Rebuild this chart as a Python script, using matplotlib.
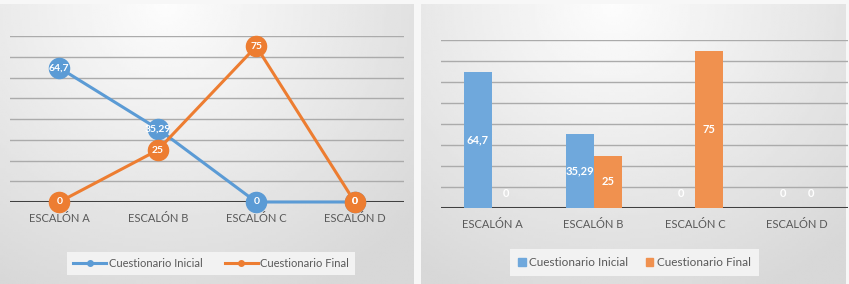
import numpy as np
import matplotlib.pyplot as plt
from matplotlib.lines import Line2D
from matplotlib.patches import Patch

plt.rcParams['font.family'] = ['Lato', 'DejaVu Sans']

categorias = ['ESCALÓN A', 'ESCALÓN B', 'ESCALÓN C', 'ESCALÓN D']
inicial = [64.7, 35.29, 0, 0]
final = [0, 25, 75, 0]
etiq_inicial = ['64,7', '35,29', '0', '0']
etiq_final = ['0', '25', '75', '0']

azul = '#5B9BD5'
naranja = '#ED7D31'
gris_texto = '#595959'

fig = plt.figure(figsize=(8.49, 2.84), dpi=100)
fig.patch.set_facecolor('#f7f7f7')


def fondo(x0, x1, y0, y1, cx):
    # gradiente radial claro arriba, gris hacia los bordes
    ax = fig.add_axes([x0, y0, x1 - x0, y1 - y0], zorder=-10)
    xx, yy = np.meshgrid(np.linspace(-1, 1, 200) - cx, np.linspace(0, 1, 100))
    r = np.sqrt((xx * 0.75) ** 2 + (yy * 1.05) ** 2)
    v = 0.99 - 0.12 * np.clip(r, 0, 1.2)
    ax.imshow(v, cmap='gray', vmin=0, vmax=1, aspect='auto', origin='upper',
              extent=[0, 1, 0, 1])
    ax.axis('off')


fondo(0, 414 / 849, 0, 280 / 284, -0.2)
fondo(421 / 849, 846 / 849, 0, 280 / 284, -0.1)


def estilo(ax):
    ax.set_facecolor('none')
    ax.set_ylim(0, 80)
    ax.set_xlim(-0.5, 3.5)
    for v in range(10, 81, 10):
        ax.axhline(v, color='#ababab', lw=1.0, zorder=0)
    ax.axhline(0, color='#404040', lw=2.2, zorder=1)
    for s in ax.spines.values():
        s.set_visible(False)
    ax.set_yticks([])
    ax.set_xticks(range(4))
    ax.set_xticklabels(categorias, fontsize=8, color=gris_texto)
    ax.tick_params(axis='x', length=0, pad=8)


# ---------------- grafico de lineas ----------------
ax1 = fig.add_axes([10 / 849, 82 / 284, 394 / 849, 166 / 284])
estilo(ax1)
x = np.arange(4)
ax1.plot(x, inicial, color=azul, lw=2.2, marker='o', ms=14.5, zorder=3, clip_on=False)
ax1.plot(x, final, color=naranja, lw=2.2, marker='o', ms=14.5, zorder=4, clip_on=False)
for i in range(4):
    ax1.text(x[i], inicial[i], etiq_inicial[i], color='white', fontsize=7.5,
             fontweight='bold', ha='center', va='center', zorder=5)
    ax1.text(x[i], final[i], etiq_final[i], color='white', fontsize=7.5,
             fontweight='bold', ha='center', va='center', zorder=6)

h1 = [Line2D([0], [0], color=azul, lw=2.2, marker='o', ms=4),
      Line2D([0], [0], color=naranja, lw=2.2, marker='o', ms=4)]
fig.legend(h1, ['Cuestionario Inicial', 'Cuestionario Final'], loc='center',
           bbox_to_anchor=(211 / 849, 20.5 / 284), ncol=2, fontsize=8,
           frameon=True, facecolor='#f2f2f2', edgecolor='none', framealpha=1,
           fancybox=False, handlelength=3.0, handletextpad=0.2, columnspacing=2.0,
           labelcolor=gris_texto, borderpad=0.5, borderaxespad=0)

# ---------------- grafico de barras ----------------
ax2 = fig.add_axes([441 / 849, 76 / 284, 407 / 849, 168 / 284])
estilo(ax2)
w = 0.275
c_azul = '#6FA8DC'
c_naranja = '#F0914F'
ax2.bar(x - w / 2, inicial, w, color=c_azul, zorder=2)
ax2.bar(x + w / 2, final, w, color=c_naranja, zorder=2)
for i in range(4):
    yi = inicial[i] / 2 if inicial[i] > 0 else 7
    yf = final[i] / 2 if final[i] > 0 else 7
    ax2.text(x[i] - w / 2, yi, etiq_inicial[i], color='white', fontsize=8,
             fontweight='bold', ha='center', va='center', zorder=5)
    ax2.text(x[i] + w / 2, yf, etiq_final[i], color='white', fontsize=8,
             fontweight='bold', ha='center', va='center', zorder=5)

h2 = [Patch(color=c_azul), Patch(color=c_naranja)]
fig.legend(h2, ['Cuestionario Inicial', 'Cuestionario Final'], loc='center',
           bbox_to_anchor=(634.5 / 849, 21.5 / 284), ncol=2, fontsize=8.5,
           frameon=True, facecolor='#f2f2f2', edgecolor='none', framealpha=1,
           fancybox=False, handlelength=0.6, handleheight=0.6, handletextpad=0.3,
           columnspacing=1.5, labelcolor=gris_texto, borderpad=0.7, borderaxespad=0)

fig.savefig('out.png', dpi=100)
